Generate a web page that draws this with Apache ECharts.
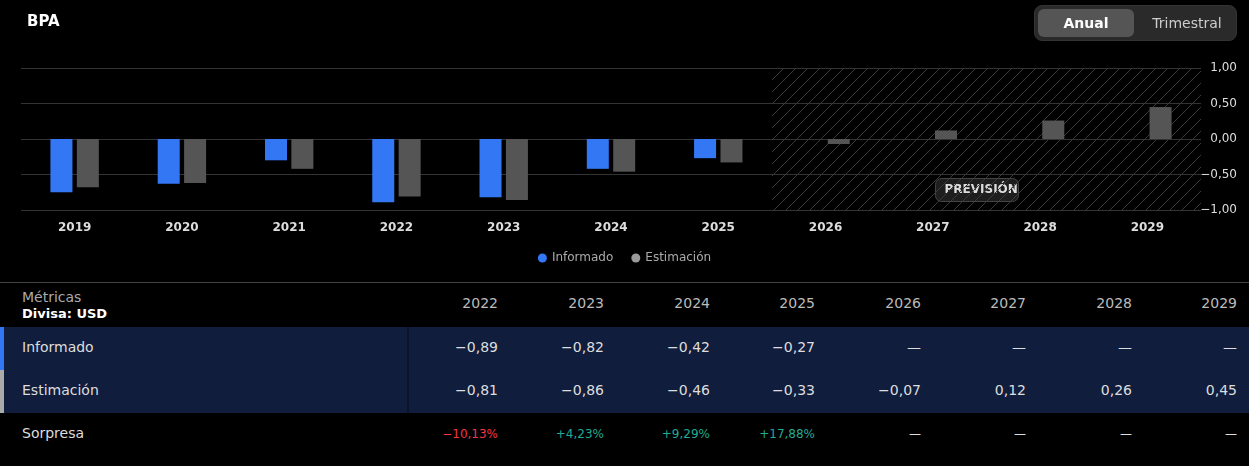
<!DOCTYPE html>
<html><head><meta charset="utf-8">
<script src="https://cdn.jsdelivr.net/npm/echarts@6/dist/echarts.min.js"></script>
<style>
body{margin:0;background:#000;width:1249px;height:466px;overflow:hidden;font-family:"DejaVu Sans",Roboto,sans-serif;color:#ddd;position:relative}
#c{position:absolute;left:0;top:0;width:1249px;height:280px}
.tb{position:absolute;left:0;top:282px;width:1249px;border-top:1px solid #444}
.row{position:relative;height:43px;font-size:14px}
.row .lab{position:absolute;left:22px;top:12px}
.row .v{position:absolute;top:12px;text-align:right;width:80px}
.sel{background:#111d3d}
.bar{position:absolute;left:0;top:0;width:4px;height:100%}
.div{position:absolute;left:407px;top:0;width:2px;height:100%;background:#0b1328}
.tog{position:absolute;left:1034px;top:5px;width:203px;height:36px;border-radius:8px;background:#2a2a2a;border:1px solid #333;box-sizing:border-box}
.tog .a{position:absolute;left:3px;top:3px;width:96px;height:28px;border-radius:6px;background:#555;color:#fff;font-weight:bold;text-align:center;line-height:28px;font-size:14px}
.tog .b{position:absolute;left:104px;top:3px;width:96px;height:28px;color:#ccc;text-align:center;line-height:28px;font-size:14px}
</style></head><body>
<div id="c"></div>
<div class="tog"><div class="a">Anual</div><div class="b">Trimestral</div></div>
<div class="tb" id="tb"></div>
<script>
const categories=['2019','2020','2021','2022','2023','2024','2025','2026','2027','2028','2029'];
const informado=[-0.75,-0.63,-0.30,-0.89,-0.82,-0.42,-0.27,null,null,null,null];
const estimacion=[-0.68,-0.62,-0.42,-0.81,-0.86,-0.46,-0.33,-0.07,0.12,0.26,0.45];
const yTicks=[-1,-0.5,0,0.5,1];
const tableYears=['2022','2023','2024','2025','2026','2027','2028','2029'];
const tInformado=['−0,89','−0,82','−0,42','−0,27','—','—','—','—'];
const tEstimacion=['−0,81','−0,86','−0,46','−0,33','−0,07','0,12','0,26','0,45'];
const tSorpresa=['−10,13%','+4,23%','+9,29%','+17,88%','—','—','—','—'];

const pc=document.createElement('canvas');pc.width=12;pc.height=12;
const g=pc.getContext('2d');g.strokeStyle='#3a3a3a';g.lineWidth=1;
g.beginPath();g.moveTo(0,12);g.lineTo(12,0);g.moveTo(-6,6);g.lineTo(6,-6);g.moveTo(6,18);g.lineTo(18,6);g.stroke();

const ch=echarts.init(document.getElementById('c'));
const fmt=v=>v.toFixed(2).replace('.',',').replace('-','−');
ch.setOption({
 backgroundColor:'#000',animation:false,
 title:{text:'BPA',left:22,top:10,textStyle:{color:'#fff',fontSize:15,fontWeight:'bold',fontFamily:'DejaVu Sans'}},
 legend:{bottom:11,left:'center',icon:'circle',itemWidth:9,itemHeight:9,itemGap:18,textStyle:{color:'#aaa',fontSize:12,fontFamily:'DejaVu Sans'},
  data:[{name:'Informado'},{name:'Estimación',itemStyle:{color:'#9a9a9a'}}]},
 grid:{left:21,right:48,top:68,bottom:70},
 xAxis:{type:'category',data:categories,axisLine:{show:false},axisTick:{show:false},axisLabel:{color:'#ddd',fontSize:12,fontWeight:'bold',margin:12,fontFamily:'DejaVu Sans'}},
 yAxis:{type:'value',position:'right',min:-1,max:1,interval:0.5,
  axisLabel:{color:'#ddd',fontSize:12,align:'right',margin:36,formatter:fmt,fontFamily:'DejaVu Sans'},
  splitLine:{lineStyle:{color:'#333'}}},
 series:[
  {name:'Informado',type:'bar',data:informado,barWidth:22,barGap:'20%',itemStyle:{color:'#3477f5'},
   markArea:{silent:true,itemStyle:{color:{image:pc,repeat:'repeat'}},data:[[{xAxis:'2026'},{xAxis:'2029'}]]}},
  {name:'Estimación',type:'bar',data:estimacion,barWidth:22,itemStyle:{color:'#555'}}
 ],
 graphic:[{type:'group',left:935,top:178,children:[
  {type:'rect',shape:{width:83,height:23,r:6},style:{fill:'#1e1e1e',stroke:'#444'}},
  {type:'text',left:9,top:5,style:{text:'PREVISIÓN',fill:'#ddd',font:'bold 12px "DejaVu Sans"'}}]}]
});

const xs=[498,604,710,815,921,1026,1132,1237];
function row(label,vals,cls,barColor,colors){
 let h='<div class="row '+(cls||'')+'">';
 if(barColor)h+='<div class="bar" style="background:'+barColor+'"></div><div class="div"></div>';
 h+='<div class="lab">'+label+'</div>';
 vals.forEach((v,i)=>{h+='<div class="v" style="left:'+(xs[i]-80)+'px;color:'+(colors?colors[i]:'#ddd')+'">'+v+'</div>';});
 return h+'</div>';
}
let html='<div class="row" style="height:44px"><div style="position:absolute;left:22px;top:6px;color:#aaa;font-size:14px">Métricas</div><div style="position:absolute;left:22px;top:23px;color:#fff;font-weight:bold;font-size:13px">Divisa: USD</div>';
tableYears.forEach((v,i)=>{html+='<div class="v" style="left:'+(xs[i]-80)+'px;top:12px;color:#bbb">'+v+'</div>';});
html+='</div>';
html+=row('Informado',tInformado,'sel','#3477f5');
html+=row('Estimación',tEstimacion,'sel','#aaa');
html+=row('Sorpresa',tSorpresa.map(s=>'<span style="font-size:12px">'+s+'</span>'),'',null,['#f23645','#22ab94','#22ab94','#22ab94','#ddd','#ddd','#ddd','#ddd']);
document.getElementById('tb').innerHTML=html;
</script></body></html>
